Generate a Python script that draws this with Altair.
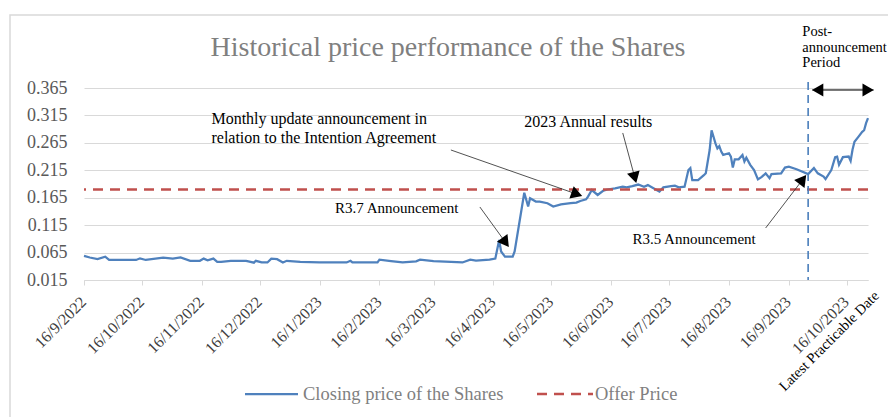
import math
import altair as alt
import pandas as pd

# ---------------- data ----------------
price_dates = [
    "2022-09-16", "2022-09-19", "2022-09-23", "2022-09-27", "2022-09-29", "2022-10-07", "2022-10-13", "2022-10-15", "2022-10-18", "2022-10-27",
    "2022-11-01", "2022-11-05", "2022-11-10", "2022-11-15", "2022-11-17", "2022-11-19", "2022-11-22", "2022-11-24", "2022-11-26", "2022-12-01",
    "2022-12-09", "2022-12-13", "2022-12-14", "2022-12-17", "2022-12-20", "2022-12-22", "2022-12-25", "2022-12-28", "2022-12-30", "2023-01-06",
    "2023-01-16", "2023-01-30", "2023-02-01", "2023-02-02", "2023-02-15", "2023-02-16", "2023-02-22", "2023-02-28", "2023-03-07", "2023-03-09",
    "2023-03-16", "2023-03-31", "2023-04-04", "2023-04-07", "2023-04-14", "2023-04-17", "2023-04-19", "2023-04-20", "2023-04-22", "2023-04-26",
    "2023-04-27", "2023-05-02", "2023-05-04", "2023-05-05", "2023-05-08", "2023-05-10", "2023-05-14", "2023-05-17", "2023-05-21", "2023-05-26",
    "2023-05-29", "2023-05-31", "2023-06-03", "2023-06-04", "2023-06-06", "2023-06-09", "2023-06-12", "2023-06-14", "2023-06-18", "2023-06-22",
    "2023-06-24", "2023-06-27", "2023-06-30", "2023-07-03", "2023-07-05", "2023-07-07", "2023-07-10", "2023-07-11", "2023-07-13", "2023-07-17",
    "2023-07-19", "2023-07-21", "2023-07-24", "2023-07-26", "2023-07-27", "2023-07-28", "2023-07-31", "2023-08-03", "2023-08-04", "2023-08-06",
    "2023-08-07", "2023-08-09", "2023-08-10", "2023-08-11", "2023-08-12", "2023-08-13", "2023-08-16", "2023-08-17", "2023-08-18", "2023-08-19",
    "2023-08-21", "2023-08-23", "2023-08-24", "2023-08-25", "2023-08-27", "2023-08-29", "2023-08-31", "2023-09-02", "2023-09-04", "2023-09-06",
    "2023-09-07", "2023-09-12", "2023-09-14", "2023-09-16", "2023-09-20", "2023-09-26", "2023-09-29", "2023-10-01", "2023-10-04", "2023-10-05",
    "2023-10-08", "2023-10-10", "2023-10-11", "2023-10-12", "2023-10-14", "2023-10-17", "2023-10-18", "2023-10-19", "2023-10-20", "2023-10-22",
    "2023-10-24", "2023-10-25", "2023-10-26", "2023-10-27",
]
closing_prices = [
    0.059, 0.056, 0.053, 0.0575, 0.0515, 0.0515, 0.0515, 0.0545, 0.0515, 0.0557,
    0.054, 0.056, 0.050, 0.050, 0.054, 0.051, 0.054, 0.048, 0.048, 0.050,
    0.050, 0.0466, 0.050, 0.047, 0.047, 0.054, 0.053, 0.047, 0.050, 0.048,
    0.047, 0.047, 0.050, 0.047, 0.047, 0.052, 0.0495, 0.047, 0.049, 0.052,
    0.0495, 0.047, 0.052, 0.0505, 0.052, 0.054, 0.088, 0.067, 0.0575, 0.0575,
    0.067, 0.174, 0.149, 0.164, 0.158, 0.158, 0.155, 0.149, 0.153, 0.155,
    0.156, 0.159, 0.162, 0.167, 0.179, 0.170, 0.178, 0.180, 0.182, 0.185,
    0.184, 0.186, 0.189, 0.185, 0.188, 0.184, 0.178, 0.176, 0.184, 0.186,
    0.187, 0.184, 0.185, 0.2155, 0.219, 0.197, 0.197, 0.206, 0.2095, 0.252,
    0.288, 0.264, 0.255, 0.259, 0.249, 0.243, 0.246, 0.240, 0.220, 0.235,
    0.235, 0.243, 0.231, 0.238, 0.225, 0.2155, 0.1985, 0.203, 0.2095, 0.2005,
    0.208, 0.2095, 0.220, 0.2215, 0.217, 0.208, 0.219, 0.2095, 0.2035, 0.199,
    0.2155, 0.239, 0.240, 0.225, 0.239, 0.240, 0.232, 0.253, 0.267, 0.276,
    0.285, 0.288, 0.301, 0.310,
]
offer_price = [0.18]
announcement_date = ["2023-09-26"]

tick_dates = ["2022-09-16", "2022-10-16", "2022-11-16", "2022-12-16", "2023-01-16", "2023-02-16",
              "2023-03-16", "2023-04-16", "2023-05-16", "2023-06-16", "2023-07-16", "2023-08-16",
              "2023-09-16", "2023-10-16"]
y_ticks = [0.015, 0.065, 0.115, 0.165, 0.215, 0.265, 0.315, 0.365]

title_text = "Historical price performance of the Shares"
series_names = ["Closing price of the Shares", "Offer Price"]
last_label = "Latest Practicable Date"

ann_texts = ["Monthly update announcement in", "relation to the Intention Agreement",
             "2023 Annual results", "R3.7 Announcement", "R3.5 Announcement",
             "Post-", "announcement", "Period"]
ann_dates = ["2022-11-21", "2022-11-21", "2023-05-02", "2023-01-24", "2023-06-27",
             "2023-09-23", "2023-09-23", "2023-09-23"]
ann_values = [0.3085, 0.2739, 0.303, 0.1463, 0.0897, 0.4671, 0.4379, 0.4106]
ann_sizes = [16, 16, 16, 15, 15, 14.5, 14.5, 14.5]

arrow_start_dates = ["2023-03-25", "2023-06-22", "2023-04-09", "2023-09-04", "2023-10-30", "2023-09-28"]
arrow_start_values = [0.252, 0.283, 0.1481, 0.1098, 0.3614, 0.3614]
arrow_tip_dates = ["2023-06-01", "2023-06-29", "2023-04-24", "2023-09-25", "2023-09-28", "2023-10-30"]
arrow_tip_values = [0.1681, 0.1918, 0.0752, 0.2064, 0.3614, 0.3614]

# ---------------- layout ----------------
W, H = 784, 192
X0, X1 = pd.Timestamp("2022-09-16"), pd.Timestamp("2023-10-27")
Y0, Y1 = 0.015, 0.365
FONT = "Liberation Serif"
BLUE = "#4f81bd"
RED = "#c0504d"
GRID = "#d9d9d9"

total_days = (X1 - X0).total_seconds() / 86400.0


def px(d):
    return (pd.Timestamp(d) - X0).total_seconds() / 86400.0 / total_days * W


def py(v):
    return (Y1 - v) / (Y1 - Y0) * H


def dt(d):
    t = pd.Timestamp(d)
    return alt.DateTime(year=t.year, month=t.month, date=t.day)


xscale = alt.Scale(domain=[dt(X0), dt(X1)], nice=False)
yscale = alt.Scale(domain=[Y0, Y1], nice=False, zero=False)

xaxis = alt.Axis(values=[dt(d) for d in tick_dates], format="%-d/%-m/%Y", title=None,
                 grid=False, domainColor=GRID, tickColor=GRID, tickSize=5,
                 labelAngle=-45, labelFont=FONT, labelFontSize=16, labelColor="#404040",
                 labelPadding=8.5, labelOffset=-6.5, labelAlign="right", labelBaseline="top",
                 labelOverlap=False, labelBound=False, labelFlush=False)
yaxis = alt.Axis(values=y_ticks, format=".3f", title=None, grid=True, gridColor=GRID,
                 domain=False, ticks=False, labelFont=FONT, labelFontSize=18,
                 labelColor="#595959", labelPadding=17, labelOverlap=False)


def X(field):
    return alt.X(field, type="temporal", scale=xscale, axis=xaxis)


def Y(field):
    return alt.Y(field, type="quantitative", scale=yscale, axis=yaxis)


price_df = pd.DataFrame({"date": pd.to_datetime(price_dates), "price": closing_prices})
line = alt.Chart(price_df).mark_line(color=BLUE, strokeWidth=2.25).encode(
    x=X("date"), y=Y("price"),
)

offer_df = pd.DataFrame({"offer": offer_price})
offer = alt.Chart(offer_df).mark_rule(color=RED, strokeWidth=2.5, strokeDash=[10, 7]).encode(
    y=Y("offer")
)

vline_df = pd.DataFrame({"date": pd.to_datetime(announcement_date), "top": [0.376], "bottom": [Y0]})
vline = alt.Chart(vline_df).mark_rule(color="#4a7ebb", strokeWidth=1.6, strokeDash=[8, 5]).encode(
    x=X("date"), y=Y("top"), y2="bottom:Q",
)

# arrows
HEAD_SIZE = 170
r = math.sqrt(HEAD_SIZE) / 2
h = math.sqrt(3) * r / 2
shaft_rows, head_rows = [], []
for sd, sv, td, tv in zip(arrow_start_dates, arrow_start_values, arrow_tip_dates, arrow_tip_values):
    dx = px(td) - px(sd)
    dy = py(tv) - py(sv)
    L = math.hypot(dx, dy)
    ux, uy = dx / L, dy / L
    angle = math.degrees(math.atan2(dx, -dy)) % 360
    cx_days = -ux * h / W * total_days
    cy_val = uy * h / H * (Y1 - Y0)
    head_rows.append({"date": pd.Timestamp(td) + pd.Timedelta(days=cx_days),
                      "value": tv + cy_val, "angle": angle})
    shaft_rows.append({"d1": pd.Timestamp(sd), "v1": sv,
                       "d2": pd.Timestamp(td) + pd.Timedelta(days=cx_days), "v2": tv + cy_val})

shafts = alt.Chart(pd.DataFrame(shaft_rows)).mark_rule(color="#262626", strokeWidth=0.8).encode(
    x=X("d1"), x2="d2:T", y=Y("v1"), y2="v2:Q",
)
heads = alt.Chart(pd.DataFrame(head_rows)).mark_point(
    shape="triangle-up", filled=True, color="black", opacity=1, size=HEAD_SIZE
).encode(
    x=X("date"), y=Y("value"), angle=alt.Angle("angle:Q", scale=None),
)

ann_df = pd.DataFrame({"text": ann_texts, "date": pd.to_datetime(ann_dates),
                       "value": ann_values, "fs": ann_sizes})
ann = alt.Chart(ann_df).mark_text(font=FONT, color="black", align="left", baseline="middle").encode(
    x=X("date"), y=Y("value"), text="text:N", size=alt.Size("fs:Q", scale=None),
)

last_df = pd.DataFrame({"t": [last_label]})
last = alt.Chart(last_df).mark_text(font=FONT, fontSize=14.5, color="black", angle=315,
                                    align="right", baseline="top").encode(
    text="t:N", x=alt.value(W + 4), y=alt.value(H + 9)
)

title_df = pd.DataFrame({"t": [title_text]})
title = alt.Chart(title_df).mark_text(font=FONT, fontSize=28, color="#7f7f7f",
                                      align="center", baseline="middle").encode(
    text="t:N", x=alt.value(364), y=alt.value(-40)
)

leg_df = pd.DataFrame({"t": series_names})
leg_line = alt.Chart(leg_df.iloc[[0]]).mark_rule(color=BLUE, strokeWidth=2.25).encode(
    x=alt.value(161), x2=alt.value(214), y=alt.value(306)
)
leg_dash = alt.Chart(leg_df.iloc[[1]]).mark_rule(color=RED, strokeWidth=2.5, strokeDash=[10, 7]).encode(
    x=alt.value(453), x2=alt.value(509), y=alt.value(306)
)
leg_t1 = alt.Chart(leg_df.iloc[[0]]).mark_text(font=FONT, fontSize=18.5, color="#7f7f7f",
                                               align="left", baseline="middle").encode(
    text="t:N", x=alt.value(219), y=alt.value(306)
)
leg_t2 = alt.Chart(leg_df.iloc[[1]]).mark_text(font=FONT, fontSize=18.5, color="#7f7f7f",
                                               align="left", baseline="middle").encode(
    text="t:N", x=alt.value(511), y=alt.value(306)
)

border = alt.Chart(pd.DataFrame({"a": [0]})).mark_rect(fill="transparent", stroke=GRID, strokeWidth=1.5).encode(
    x=alt.value(-74), x2=alt.value(W + 60), y=alt.value(-73), y2=alt.value(H + 200)
)

chart = alt.layer(
    line, offer, vline, shafts, heads, ann, last, title,
    leg_line, leg_dash, leg_t1, leg_t2, border,
).properties(
    width=W, height=H,
    autosize=alt.AutoSizeParams(type="none"),
    padding={"left": 84, "top": 88, "right": 20, "bottom": 137},
    background="white",
).configure_view(stroke=None)

chart.save("out.html", embed_options={"renderer": "svg", "actions": False})
